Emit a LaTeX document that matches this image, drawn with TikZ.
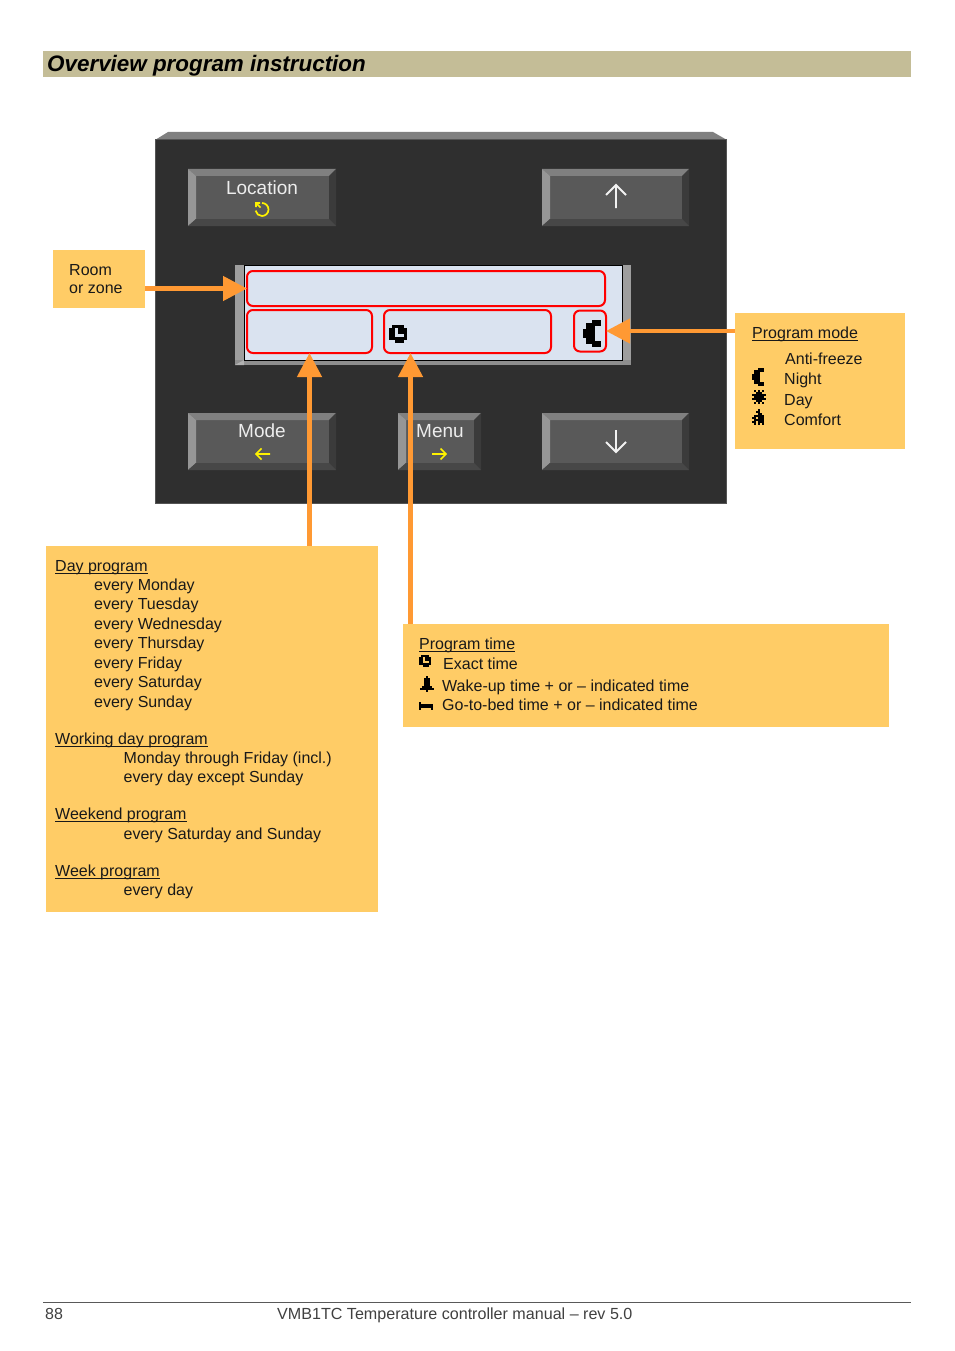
\documentclass[tikz,border=0pt]{standalone}
\usepackage{fontspec}
\setmainfont{Liberation Sans}
\usepackage{xcolor}
\usepackage{tikz}
\usetikzlibrary{arrows.meta}

\definecolor{barcol}{HTML}{C4BD97}
\definecolor{notecol}{HTML}{FFCC66}
\definecolor{arrowcol}{HTML}{FF9933}
\definecolor{panelcol}{HTML}{2F2F2F}
\definecolor{screencol}{HTML}{DAE3F0}

\newcommand{\headul}[1]{\setbox0\hbox{#1}\rlap{\raisebox{-3.2pt}{\rule{\wd0}{1.1pt}}}\box0}

\tikzset{
  notebox/.style={fill=notecol,inner sep=0pt},
  notetext/.style={anchor=base west,inner sep=0pt,font=\fontsize{16}{19}\selectfont,text=black!90},
  keytext/.style={anchor=base,inner sep=0pt,font=\fontsize{19}{22}\selectfont,text=white!93!black},
  fieldbox/.style={draw=red,line width=2pt,rounded corners=6pt,inner sep=0pt,outer sep=0pt},
  pointer/.style={draw=arrowcol,line width=4.5pt,-{Triangle[length=24pt,width=24pt,fill=arrowcol]}},
  keyarrow/.style={draw=white!95!black,line width=1.8pt},
  softarrow/.style={draw=yellow,line width=1.7pt}
}

\newcommand{\bevelkey}[4]{
  \fill[black!65] (#1,#2) rectangle (#3,#4);
  \fill[black!50] (#1,#2) -- (#3,#2) -- (#3-7,#2+7) -- (#1+8,#2+7) -- cycle;
  \fill[black!41] (#1,#2) -- (#1,#4) -- (#1+8,#4-7) -- (#1+8,#2+7) -- cycle;
  \fill[black!72] (#1,#4) -- (#3,#4) -- (#3-7,#4-7) -- (#1+8,#4-7) -- cycle;
  \fill[black!77] (#3,#2) -- (#3,#4) -- (#3-7,#4-7) -- (#3-7,#2+7) -- cycle;
}

\newcommand{\pixicon}[4]{
  \begin{scope}[shift={(#1,#2)},x=#3pt,y=-#3pt]
    \edef\pixlist{#4}
    \foreach \rowno/\colno/\runlen in \pixlist \fill[black] (\colno,\rowno) rectangle (\colno+\runlen,\rowno+1);
  \end{scope}
}
\newcommand{\moonpix}{0/3/3,1/1/5,2/1/3,3/0/4,4/0/4,5/0/4,6/1/3,7/1/5,8/3/3}
\newcommand{\clockpix}{0/1/4,1/0/2,1/3/3,2/0/2,2/3/3,3/0/2,3/5/1,4/0/6,5/2/3}

\begin{document}
\begin{tikzpicture}[x=1pt,y=-1pt]
  \useasboundingbox (0,0) rectangle (954,1351);

  \fill[barcol] (43,51) rectangle (911,77);
  \node[anchor=base west,inner sep=0pt,font=\fontsize{22.4}{26}\selectfont\bfseries\itshape] (pagetitle) at (47,71.5) {Overview program instruction};

  \fill[black!50] (155,140) -- (168,132) -- (713,132) -- (727,140) -- cycle;
  \draw[fill=panelcol,draw=black!67,line width=1pt] (155.5,140) rectangle (726.5,503.5);

  \bevelkey{188}{169}{336}{226}
  \bevelkey{542}{169}{689}{226}
  \bevelkey{188}{413}{336}{470}
  \bevelkey{398}{413}{481}{470}
  \bevelkey{542}{413}{689}{470}

  \node[keytext] (keylocation) at (262,194) {Location};
  \node[keytext] (keymode) at (262,437) {Mode};
  \node[keytext] (keymenu) at (440,437) {Menu};

  \draw[softarrow] (262,203) arc (270:530:6.5);
  \draw[softarrow] (260.5,207.5) -- (256,203) (256,207) -- (256,203) -- (260,203);
  \draw[softarrow] (270,454) -- (256,454) (261.5,448.5) -- (256,454) -- (261.5,459.5);
  \draw[softarrow] (432,454) -- (446,454) (440.5,448.5) -- (446,454) -- (440.5,459.5);
  \draw[keyarrow] (616,208) -- (616,186) (606,195) -- (616,185) -- (626,195);
  \draw[keyarrow] (616,430) -- (616,452) (606,442) -- (616,452) -- (626,442);

  \fill[black!38] (235,265) rectangle (631,365);
  \fill[black!44] (235,360) rectangle (631,365);
  \fill[black!30] (235,365) -- (244,360) -- (244,365) -- cycle;
  \draw[fill=screencol,draw=black,line width=1pt] (244.5,265.5) rectangle (622.5,360);

  \node[fieldbox,minimum width=358pt,minimum height=35pt] (roomfield) at (426,288.5) {};
  \node[fieldbox,minimum width=125pt,minimum height=43pt] (dayfield) at (309.5,331.5) {};
  \node[fieldbox,minimum width=167pt,minimum height=43pt] (timefield) at (467.5,331.5) {};
  \node[fieldbox,minimum width=32pt,minimum height=41pt] (modefield) at (590,331) {};
  \coordinate (timetip) at (410.5,353);

  \pixicon{389}{324.5}{3}{\clockpix}
  \pixicon{583}{320}{3}{\moonpix}

  \node[notebox,minimum width=92pt,minimum height=58pt] (roombox) at (99,279) {};
  \node[notebox,minimum width=170pt,minimum height=136pt] (modebox) at (820,381) {};
  \node[notebox,minimum width=332pt,minimum height=366pt] (daybox) at (212,729) {};
  \node[notebox,minimum width=486pt,minimum height=103pt] (timebox) at (646,675.5) {};

  \draw[pointer] (roombox.east |- roomfield.west) -- (roomfield.west);
  \draw[pointer] (modebox.west |- modefield.east) -- (modefield.east);
  \draw[pointer] (daybox.north -| dayfield.south) -- (dayfield.south);
  \draw[pointer] (timebox.north -| timetip) -- (timetip);

  \node[notetext] (roomline1) at (69,275) {Room};
  \node[notetext] (roomline2) at (69,293) {or zone};

  \node[notetext] (modehead) at (752,338) {\headul{Program mode}};
  \node[notetext] (modeline1) at (785,364) {Anti-freeze};
  \node[notetext] (modeline2) at (784,384) {Night};
  \node[notetext] (modeline3) at (784,405) {Day};
  \node[notetext] (modeline4) at (784,425) {Comfort};
  \pixicon{752}{368}{2}{\moonpix}
  \pixicon{752}{390}{2}{0/1/1,0/3/1,0/5/1,1/2/3,2/0/7,3/1/5,4/0/7,5/2/3,6/1/1,6/3/1,6/5/1}
  \pixicon{752}{409}{2}{0/3/1,1/2/2,2/3/2,3/1/5,4/0/2,4/3/3,5/1/5,6/0/2,6/3/3,7/1/1,7/3/1,7/5/1}

  \node[notetext] (dayhead) at (55,571) {\headul{Day program}};
  \node[notetext] (dayline1) at (94,590) {every Monday};
  \node[notetext] (dayline2) at (94,609) {every Tuesday};
  \node[notetext] (dayline3) at (94,629) {every Wednesday};
  \node[notetext] (dayline4) at (94,648) {every Thursday};
  \node[notetext] (dayline5) at (94,668) {every Friday};
  \node[notetext] (dayline6) at (94,687) {every Saturday};
  \node[notetext] (dayline7) at (94,707) {every Sunday};
  \node[notetext] (workhead) at (55,744) {\headul{Working day program}};
  \node[notetext] (workline1) at (123.5,763) {Monday through Friday (incl.)};
  \node[notetext] (workline2) at (123.5,782) {every day except Sunday};
  \node[notetext] (weekendhead) at (55,819) {\headul{Weekend program}};
  \node[notetext] (weekendline) at (123.5,839) {every Saturday and Sunday};
  \node[notetext] (weekhead) at (55,876) {\headul{Week program}};
  \node[notetext] (weekline) at (123.5,895) {every day};

  \node[notetext] (timehead) at (419,649) {\headul{Program time}};
  \node[notetext] (timeline1) at (443,669) {Exact time};
  \node[notetext] (timeline2) at (442,691) {Wake-up time + or -- indicated time};
  \node[notetext] (timeline3) at (442,710) {Go-to-bed time + or -- indicated time};
  \pixicon{419}{655}{2}{\clockpix}
  \pixicon{419.5}{676}{2}{0/3/1,1/2/3,2/2/3,3/2/3,4/2/3,5/1/5,6/0/7,7/3/1}
  \pixicon{419}{702}{2}{0/0/1,1/0/7,2/0/7,3/0/1,3/6/1}

  \draw[black!65,line width=1pt] (43,1302.5) -- (911,1302.5);
  \node[anchor=base west,inner sep=0pt,font=\fontsize{16}{19}\selectfont,text=black!75] (pagenum) at (45,1319) {88};
  \node[anchor=base west,inner sep=0pt,font=\fontsize{16.1}{19}\selectfont,text=black!75] (pagefoot) at (277,1319) {VMB1TC Temperature controller manual -- rev 5.0};
\end{tikzpicture}
\end{document}
